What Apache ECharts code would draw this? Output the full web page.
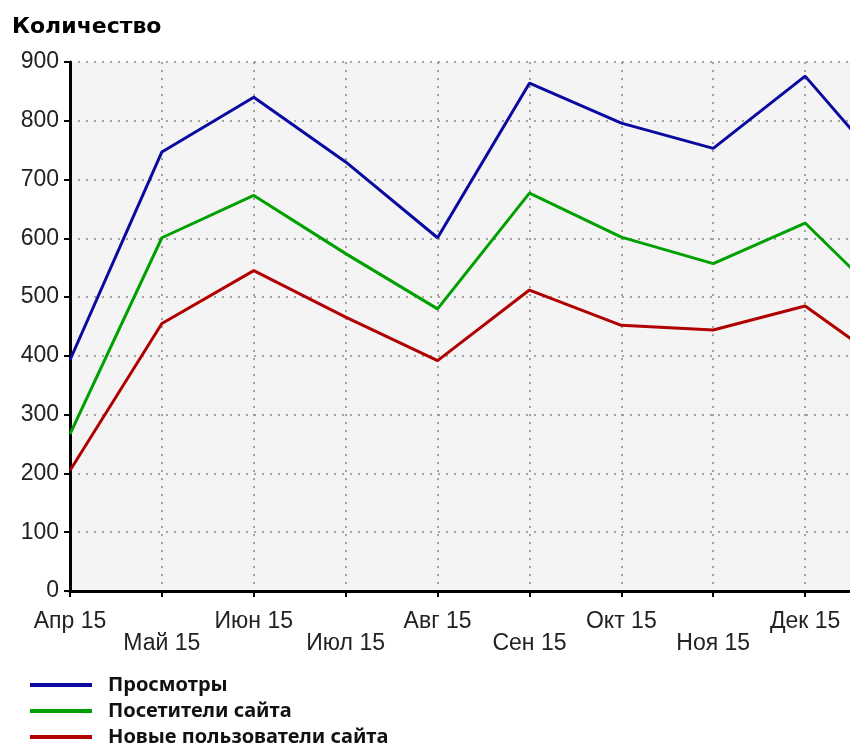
<!DOCTYPE html>
<html>
<head>
<meta charset="utf-8">
<script src="https://cdn.jsdelivr.net/npm/echarts@6/dist/echarts.min.js"></script>
<style>
  html, body { margin: 0; padding: 0; background: #fff; }
  #chart { width: 850px; height: 753px; }
</style>
</head>
<body>
<div id="chart"></div>
<script>
// месяцы (последний уходит за правый край картинки)
var months = ['Апр 15', 'Май 15', 'Июн 15', 'Июл 15', 'Авг 15', 'Сен 15', 'Окт 15', 'Ноя 15', 'Дек 15', 'Янв 16'];
var views = [393, 747, 840, 730, 601, 864, 796, 753, 876, 695];
var visitors = [267, 601, 673, 574, 480, 677, 602, 557, 626, 473];
var newUsers = [205, 455, 545, 466, 392, 512, 452, 444, 485, 373];
var yTicks = [0, 100, 200, 300, 400, 500, 600, 700, 800, 900];

var chart = echarts.init(document.getElementById('chart'));

function lineSeries(name, data, color) {
  return {
    name: name,
    type: 'line',
    data: data,
    symbol: 'none',
    clip: true,
    lineStyle: { color: color, width: 3 },
    itemStyle: { color: color }
  };
}

chart.setOption({
  animation: false,
  title: {
    text: 'Количество',
    left: 12,
    top: 16,
    padding: 0,
    textStyle: {
      fontFamily: 'DejaVu Sans',
      fontWeight: 'bold',
      fontSize: 22,
      color: '#000'
    }
  },
  grid: {
    left: 70,
    top: 62,
    width: 827,
    bottom: 162,
    outerBoundsMode: 'none',
    containLabel: false,
    show: true,
    backgroundColor: '#f4f4f4',
    borderWidth: 0
  },
  legend: {
    orient: 'vertical',
    left: 30,
    top: 675,
    padding: 0,
    itemWidth: 62,
    itemHeight: 4,
    itemGap: 6,
    icon: 'rect',
    data: ['Просмотры', 'Посетители сайта', 'Новые пользователи сайта'],
    textStyle: {
      fontFamily: 'Noto Sans',
      fontWeight: 'bold',
      fontSize: 20,
      lineHeight: 20,
      color: '#111',
      padding: [0, 0, 0, 11]
    }
  },
  xAxis: {
    type: 'category',
    data: months,
    boundaryGap: false,
    axisLine: { lineStyle: { color: '#000', width: 3 } },
    axisTick: { length: 6, lineStyle: { color: '#000', width: 2 } },
    splitLine: { show: true, lineStyle: { color: '#888', type: [2, 6], width: 1.5 } },
    axisLabel: {
      interval: 0,
      hideOverlap: false,
      margin: 20,
      fontFamily: 'Liberation Sans',
      fontSize: 23,
      lineHeight: 22,
      color: '#222',
      formatter: function (value, index) {
        return index % 2 ? '\n' + value : value;
      }
    }
  },
  yAxis: {
    type: 'value',
    min: yTicks[0],
    max: yTicks[yTicks.length - 1],
    interval: 100,
    axisLine: { show: true, lineStyle: { color: '#000', width: 3 } },
    axisTick: { show: true, length: 6, lineStyle: { color: '#000', width: 2 } },
    splitLine: { show: true, lineStyle: { color: '#888', type: [2, 6], width: 1.5 } },
    axisLabel: {
      margin: 11,
      fontFamily: 'Liberation Sans',
      fontSize: 23,
      color: '#222'
    }
  },
  series: [
    lineSeries('Просмотры', views, '#0a0aa0'),
    lineSeries('Посетители сайта', visitors, '#00a000'),
    lineSeries('Новые пользователи сайта', newUsers, '#b00000')
  ]
});
</script>
</body>
</html>
